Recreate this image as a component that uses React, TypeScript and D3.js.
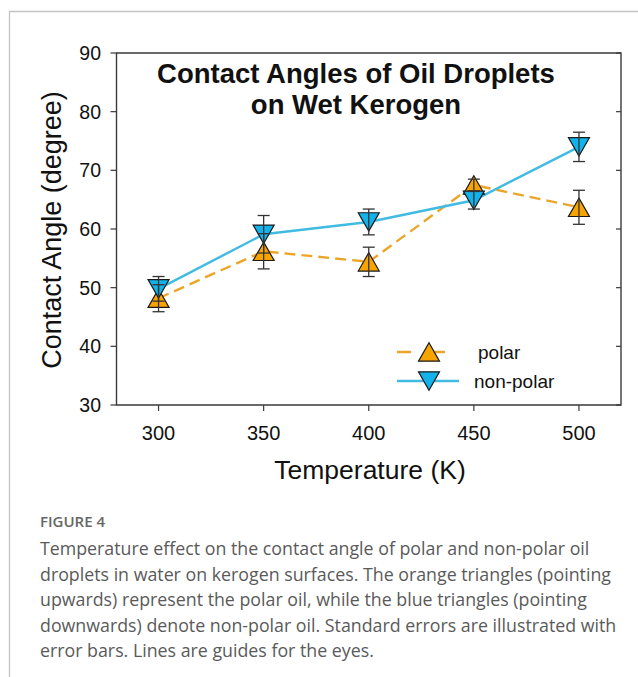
import { useRef, useEffect } from 'react'
import * as d3 from 'd3'

const temps = [300, 350, 400, 450, 500]
const polarMean = [48.2, 56.2, 54.4, 67.5, 63.7]
const polarErr = [2.3, 3.0, 2.5, 1.0, 2.9]
const nonPolarMean = [49.8, 59.1, 61.2, 64.9, 74.0]
const nonPolarErr = [2.1, 3.2, 2.2, 1.5, 2.5]
const yTicks = [30, 40, 50, 60, 70, 80, 90]
const xTicks = [300, 350, 400, 450, 500]
const titleLines = ['Contact Angles of Oil Droplets', 'on Wet Kerogen']
const captionLines = [
  'Temperature effect on the contact angle of polar and non-polar oil',
  'droplets in water on kerogen surfaces. The orange triangles (pointing',
  'upwards) represent the polar oil, while the blue triangles (pointing',
  'downwards) denote non-polar oil. Standard errors are illustrated with',
  'error bars. Lines are guides for the eyes.',
]

const W = 638
const H = 677

// triangle path centred on its bounding box
function tri(up: boolean, hw = 10.5, hh = 9.2) {
  return up
    ? `M0,${-hh}L${hw},${hh}L${-hw},${hh}Z`
    : `M0,${hh}L${hw},${-hh}L${-hw},${-hh}Z`
}

export default function App() {
  const svgRef = useRef<SVGSVGElement>(null)

  useEffect(() => {
    document.body.style.margin = '0'
    if (!svgRef.current) return
    const svg = d3.select(svgRef.current)
    svg.selectAll('*').remove()

    const left = 116.5
    const right = 621
    const top = 53
    const bottom = 405

    const x = d3.scaleLinear().domain([280, 520]).range([left, right])
    const y = d3.scaleLinear().domain([30, 90]).range([bottom, top])

    // outer frame
    svg.append('path')
      .attr('d', `M9.5,${H}V11.5H${W}`)
      .attr('fill', 'none')
      .attr('stroke', '#c4c4c4')
      .attr('stroke-width', 1.3)

    const axisColor = '#3a3a3a'
    // plot box
    svg.append('path')
      .attr('d', `M${left},${top}V${bottom}H${right}V${top}Z`)
      .attr('fill', 'none')
      .attr('stroke', axisColor)
      .attr('stroke-width', 1.4)

    const font = "'Liberation Sans', Arial, sans-serif"

    // y ticks
    yTicks.forEach((t) => {
      svg.append('line')
        .attr('x1', left - 6).attr('x2', left)
        .attr('y1', y(t)).attr('y2', y(t))
        .attr('stroke', axisColor).attr('stroke-width', 1.2)
      svg.append('line')
        .attr('x1', right - 5).attr('x2', right)
        .attr('y1', y(t)).attr('y2', y(t))
        .attr('stroke', axisColor).attr('stroke-width', 1.2)
      svg.append('text')
        .attr('x', 101).attr('y', y(t) + 7)
        .attr('text-anchor', 'end')
        .attr('font-family', font).attr('font-size', 19.5)
        .attr('fill', '#111')
        .text(t)
    })

    // x ticks
    xTicks.forEach((t) => {
      svg.append('line')
        .attr('x1', x(t)).attr('x2', x(t))
        .attr('y1', bottom).attr('y2', bottom + 6)
        .attr('stroke', axisColor).attr('stroke-width', 1.2)
      svg.append('text')
        .attr('x', x(t)).attr('y', 440)
        .attr('text-anchor', 'middle')
        .attr('font-family', font).attr('font-size', 20)
        .attr('fill', '#111')
        .text(t)
    })

    // axis titles
    svg.append('text')
      .attr('x', 370).attr('y', 479)
      .attr('text-anchor', 'middle')
      .attr('font-family', font).attr('font-size', 26.5)
      .attr('fill', '#111')
      .text('Temperature (K)')

    svg.append('text')
      .attr('transform', `translate(61,230) rotate(-90)`)
      .attr('text-anchor', 'middle')
      .attr('font-family', font).attr('font-size', 27)
      .attr('fill', '#111')
      .text('Contact Angle (degree)')

    // chart title
    titleLines.forEach((s, i) => {
      svg.append('text')
        .attr('x', 356).attr('y', 83 + i * 31)
        .attr('text-anchor', 'middle')
        .attr('font-family', font).attr('font-size', 27.5)
        .attr('font-weight', 'bold')
        .attr('fill', '#111')
        .text(s)
    })

    const orangeFill = '#F7A300'
    const orangeLine = '#EBA62A'
    const blueFill = '#12B3EA'
    const blueLine = '#42BBE2'

    const series = [
      { mean: polarMean, err: polarErr, up: true, fill: orangeFill, line: orangeLine, dash: '11,6' },
      { mean: nonPolarMean, err: nonPolarErr, up: false, fill: blueFill, line: blueLine, dash: null },
    ]

    const lineGen = d3.line<number>()
      .x((_, i) => x(temps[i]))
      .y((d) => y(d))

    series.forEach((s) => {
      svg.append('path')
        .attr('d', lineGen(s.mean) ?? '')
        .attr('fill', 'none')
        .attr('stroke', s.line)
        .attr('stroke-width', 2.4)
        .attr('stroke-dasharray', s.dash)
    })

    series.forEach((s) => {
      s.mean.forEach((m, i) => {
        svg.append('path')
          .attr('d', tri(s.up))
          .attr('transform', `translate(${x(temps[i])},${y(m)})`)
          .attr('fill', s.fill)
          .attr('stroke', '#1a1a1a')
          .attr('stroke-width', 1.2)
          .attr('stroke-linejoin', 'miter')
      })
    })

    // error bars on top
    series.forEach((s) => {
      s.mean.forEach((m, i) => {
        const cx = x(temps[i])
        const y1 = y(m + s.err[i])
        const y0 = y(m - s.err[i])
        const g = svg.append('g').attr('stroke', '#333').attr('stroke-width', 1.3)
        g.append('line').attr('x1', cx).attr('x2', cx).attr('y1', y1).attr('y2', y0)
        g.append('line').attr('x1', cx - 6).attr('x2', cx + 6).attr('y1', y1).attr('y2', y1)
        g.append('line').attr('x1', cx - 6).attr('x2', cx + 6).attr('y1', y0).attr('y2', y0)
      })
    })

    // legend
    const legend = [
      { label: 'polar', ly: 352, up: true, fill: orangeFill, line: orangeLine, dash: '14,20', x2: 452, tx: 478 },
      { label: 'non-polar', ly: 381, up: false, fill: blueFill, line: blueLine, dash: null, x2: 459, tx: 474 },
    ]
    legend.forEach((l) => {
      svg.append('line')
        .attr('x1', 397).attr('x2', l.x2)
        .attr('y1', l.ly).attr('y2', l.ly)
        .attr('stroke', l.line).attr('stroke-width', 2.4)
        .attr('stroke-dasharray', l.dash)
      svg.append('path')
        .attr('d', tri(l.up))
        .attr('transform', `translate(429,${l.ly})`)
        .attr('fill', l.fill)
        .attr('stroke', '#1a1a1a')
        .attr('stroke-width', 1.2)
      svg.append('text')
        .attr('x', l.tx).attr('y', l.ly + 7)
        .attr('font-family', font).attr('font-size', 19)
        .attr('fill', '#111')
        .text(l.label)
    })

    // caption
    const capFont = "'Open Sans', 'Noto Sans', sans-serif"
    svg.append('text')
      .attr('x', 40).attr('y', 527)
      .attr('font-family', capFont).attr('font-size', 15)
      .attr('font-weight', 600)
      .attr('fill', '#666')
      .text('FIGURE 4')
    captionLines.forEach((s, i) => {
      svg.append('text')
        .attr('x', 40).attr('y', 555 + i * 25.5)
        .attr('font-family', capFont).attr('font-size', 17.8)
        .attr('fill', '#5a5a5a')
        .text(s)
    })
  }, [])

  return <svg ref={svgRef} width={W} height={H} style={{ display: 'block', background: '#fff' }} />
}
